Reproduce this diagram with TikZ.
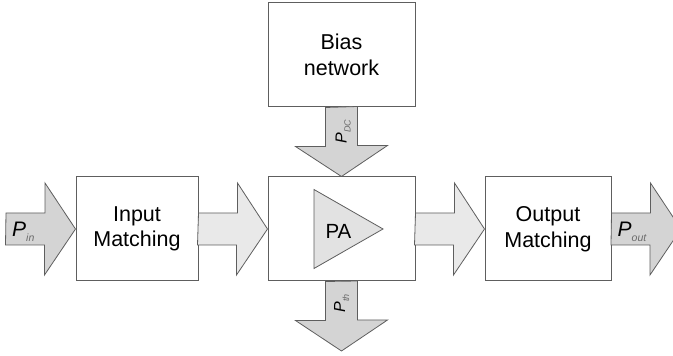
\documentclass[tikz,border=0pt]{standalone}
\usepackage{fontspec}
\setmainfont{Liberation Sans}
\usetikzlibrary{positioning}
\definecolor{linegray}{HTML}{5E5E5E}
\definecolor{powergray}{HTML}{D4D4D4}
\definecolor{flowgray}{HTML}{E9E9E9}
\definecolor{ampgray}{HTML}{E2E2E2}
\definecolor{subgray}{HTML}{6A6A6A}

\newcommand{\powlabel}[3]{{\itshape P}\raisebox{-#2}{\fontsize{#3}{#3}\selectfont\color{subgray}\itshape #1}}

\begin{document}
\begin{tikzpicture}[x=1pt, y=1pt,
		block/.style={
			draw=linegray,
			line width=1pt,
			fill=white,
			minimum height=104pt,
			align=center,
			font=\fontsize{21.5}{25.5}\selectfont
		},
		flow/.style={draw=linegray, line width=0.8pt, fill=flowgray, line join=miter},
		power/.style={flow, fill=powergray},
		plabel/.style={inner sep=0pt, font=\fontsize{21}{21}\selectfont},
		vlabel/.style={plabel, rotate=90, anchor=base west, font=\fontsize{16}{16}\selectfont}]
		\useasboundingbox (0,0) rectangle (673,356);
		
		\node[block, minimum width=122pt] (inm) at (137,127) {Input\\Matching};
		\node[block, minimum width=147pt] (pa) at (341.5,127) {};
		\node[block, minimum width=126pt] (outm) at (548,127) {Output\\Matching};
		\node[block, minimum width=147pt] (bias) at (341.5,301) {Bias\\network};
		
		\coordinate (pin) at (6,127);
		\coordinate (pout) at (681,127);
		\coordinate (pth) at (341.5,5);
		
		% amplifier
		\draw[draw=linegray, line width=0.8pt, fill=ampgray] (pa.center)++(-27.5,39.5) --++(69,-39.5) --++(-69,-39.5) -- cycle;
		\node[font=\fontsize{20.5}{20.5}\selectfont] (amp) at ([shift={(-3,-2)}]pa.center) {PA};
		
		% horizontal arrows
		\draw[power] (pin)++(0,16) --++(39,0) --++(0,30) -- (inm.west) --++(-31,-46) --++(0,30) --++(-39,0) -- cycle;
		\draw[flow] (inm.east)++(0,16) --++(39,0) --++(0,30) -- (pa.west) --++(-31,-46) --++(0,30) --++(-39,0) -- cycle;
		\draw[flow] (pa.east)++(0,16) --++(39,0) --++(0,30) -- (outm.west) --++(-31,-46) --++(0,30) --++(-39,0) -- cycle;
		\draw[power] (outm.east)++(0,16) --++(39,0) --++(0,30) -- (pout) --++(-31,-46) --++(0,30) --++(-39,0) -- cycle;
		
		% vertical arrows
		\draw[power] (bias.south)++(-16,0) --++(0,-39) --++(-30,0) -- (pa.north) --++(46,31) --++(-30,0) --++(0,39) -- cycle;
		\draw[power] (pa.south)++(-16,0) --++(0,-39) --++(-30,0) -- (pth) --++(46,31) --++(-30,0) --++(0,39) -- cycle;
		
		\node[plabel, anchor=base west] (pinlab) at ([shift={(6,-8)}]pin) {\powlabel{in}{5pt}{10.5}};
		\node[plabel, anchor=base west] (poutlab) at ([shift={(6,-8)}]outm.east) {\powlabel{out}{5pt}{10.5}};
		\node[vlabel] (pdclab) at ([shift={(5,-36)}]bias.south) {\powlabel{DC}{4pt}{9}};
		\node[vlabel] (pthlab) at ([shift={(3.5,-31)}]pa.south) {\powlabel{th}{4pt}{9}};
	\end{tikzpicture}
\end{document}
